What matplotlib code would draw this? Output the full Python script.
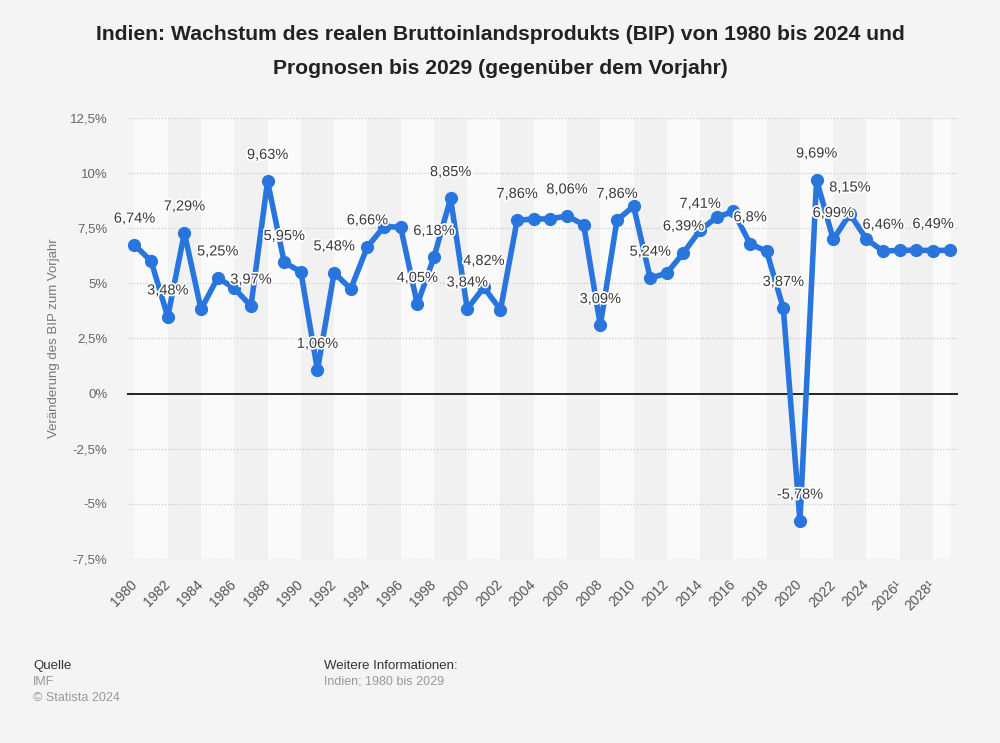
import matplotlib
matplotlib.use("Agg")
import matplotlib.pyplot as plt
import matplotlib.patheffects as pe

# Reale BIP-Veraenderung Indien in Prozent (IMF)
years = list(range(1980, 2030))
growth = [6.74, 6.01, 3.48, 7.29, 3.82, 5.25, 4.78, 3.97, 9.63, 5.95,
          5.53, 1.06, 5.48, 4.75, 6.66, 7.57, 7.55, 4.05, 6.18, 8.85,
          3.84, 4.82, 3.80, 7.86, 7.92, 7.92, 8.06, 7.66, 3.09, 7.86,
          8.50, 5.24, 5.46, 6.39, 7.41, 8.00, 8.26, 6.80, 6.45, 3.87,
          -5.78, 9.69, 6.99, 8.15, 7.00, 6.46, 6.50, 6.50, 6.49, 6.50]
# Jahre mit Datenbeschriftung
labelled = [1980, 1982, 1983, 1985, 1987, 1988, 1989, 1991, 1992, 1994,
            1997, 1998, 1999, 2000, 2001, 2003, 2006, 2008, 2009, 2011,
            2013, 2014, 2017, 2019, 2020, 2021, 2022, 2023, 2025, 2028]
tick_years = list(range(1980, 2030, 2))
tick_labels = [str(y) for y in tick_years]
tick_labels[-2] = "2026\u00b9"
tick_labels[-1] = "2028\u00b9"
y_ticks = [-7.5, -5, -2.5, 0, 2.5, 5, 7.5, 10, 12.5]

bg = "#f4f4f4"
blue = "#2876dd"
plt.rcParams['font.family'] = ['Liberation Sans', 'DejaVu Sans']

fig = plt.figure(figsize=(10, 7.43), dpi=100, facecolor=bg)
ax = fig.add_axes([0.127, 0.2477, 0.831, 0.5935])
ax.set_facecolor(bg)

# abwechselnde Hintergrundstreifen (je 2 Jahre)
for i, start in enumerate(tick_years):
    end = min(start + 2, 2029.05)
    col = "#fafafa" if i % 2 == 0 else "#f1f1f1"
    ax.axvspan(start, end, color=col, zorder=0, lw=0)

for yv in y_ticks:
    if yv == 0:
        ax.axhline(0, color="black", lw=1.2, zorder=2)
    else:
        ax.axhline(yv, color="#c8c8c8", lw=0.9, ls=(0, (1, 1.5)), zorder=1)

ax.plot(years, growth, color=blue, lw=4, marker="o", markersize=8.5,
        zorder=3, solid_joinstyle="round")

for yr, val in zip(years, growth):
    if yr in labelled:
        txt = ("%.2f" % val).rstrip("0").replace(".", ",") + "%"
        ax.annotate(txt, (yr, val), xytext=(0, 19), textcoords="offset points",
                    ha="center", va="center", fontsize=10.5, color="#3a3a3a",
                    zorder=4,
                    path_effects=[pe.withStroke(linewidth=2.5, foreground="white")])

ax.set_xlim(1979.55, 2029.5)
ax.set_ylim(-7.5, 12.5)
ax.set_yticks(y_ticks)
ax.set_yticklabels([("%g" % v).replace(".", ",") + "%" for v in y_ticks],
                   color="#666666", fontsize=9.5)
ax.set_xticks(tick_years)
ax.set_xticklabels(tick_labels, rotation=45, ha="right", va="center",
                   rotation_mode="anchor", color="#555555", fontsize=10)
ax.tick_params(axis="both", length=0)
ax.tick_params(axis="x", pad=17)
ax.tick_params(axis="y", pad=14)
for s in ax.spines.values():
    s.set_visible(False)

ax.set_ylabel("Veränderung des BIP zum Vorjahr", color="#777777", fontsize=9.5)
ax.yaxis.set_label_coords(-0.081, 0.5)

fig.text(0.5, 1 - 35 / 743, "Indien: Wachstum des realen Bruttoinlandsprodukts (BIP) von 1980 bis 2024 und",
         ha="center", va="center", fontsize=15.2, fontweight="bold", color="#222222")
fig.text(0.5, 1 - 68 / 743, "Prognosen bis 2029 (gegenüber dem Vorjahr)",
         ha="center", va="center", fontsize=15.2, fontweight="bold", color="#222222")

fig.text(0.033, 1 - 666 / 743, "Quelle", fontsize=9.5, color="#333333", va="center")
fig.text(0.033, 1 - 682 / 743, "IMF", fontsize=9, color="#999999", va="center")
fig.text(0.033, 1 - 698 / 743, "© Statista 2024", fontsize=9, color="#999999", va="center")
fig.text(0.324, 1 - 666 / 743, "Weitere Informationen:", fontsize=9.5, color="#333333", va="center")
fig.text(0.324, 1 - 682 / 743, "Indien; 1980 bis 2029", fontsize=9, color="#999999", va="center")

fig.savefig("out.png", dpi=100, facecolor=bg)
